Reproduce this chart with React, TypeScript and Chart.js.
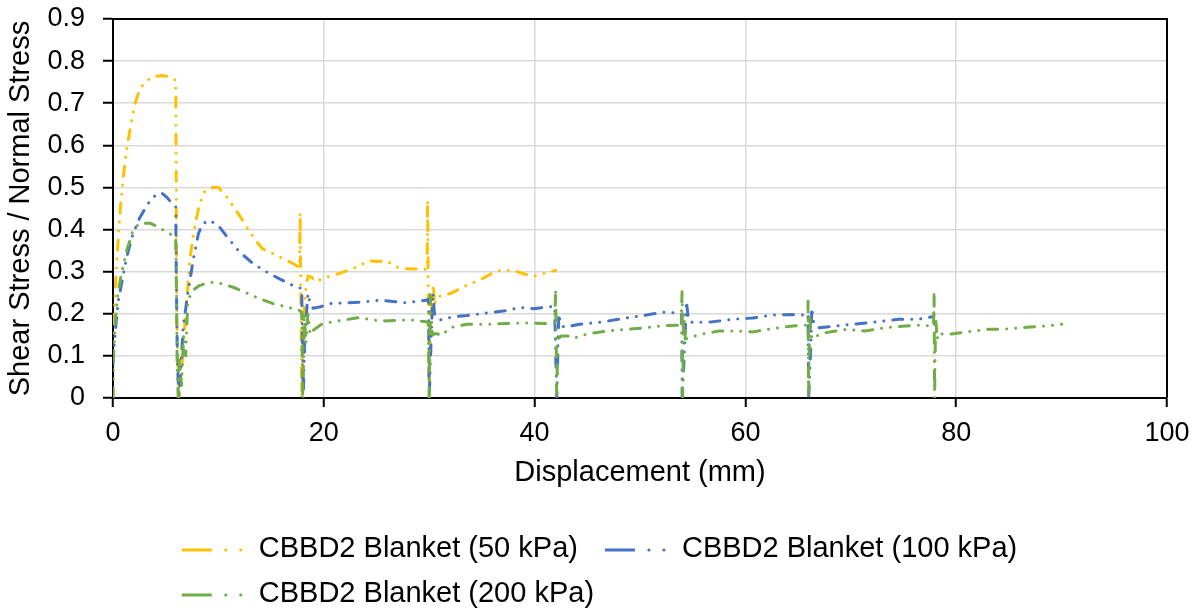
import React, { useEffect, useRef } from 'react';
import { Chart, registerables } from 'chart.js';

Chart.register(...registerables);

const FONT = '"Liberation Sans", Arial, sans-serif';

// Axis ticks
const xTickValues = [0, 20, 40, 60, 80, 100];
const yTickLabels = ['0', '0.1', '0.2', '0.3', '0.4', '0.5', '0.6', '0.7', '0.8', '0.9'];

// Series names and colours
const seriesNames = ['CBBD2 Blanket (50 kPa)', 'CBBD2 Blanket (100 kPa)', 'CBBD2 Blanket (200 kPa)'];
const seriesColors = ['#FFC000', '#4472C4', '#70AD47'];

// 50 kPa: displacement (mm) and stress ratio
const disp50 = [
  0, 0.05, 0.15, 0.3, 0.5, 0.7, 1.0, 1.3, 1.7, 2.1, 2.5, 3.0, 3.8, 4.7, 5.5, 5.95,
  6.0, 6.05, 6.2, 6.4, 6.6, 6.9, 7.3, 7.7, 8.2, 8.7, 9.3, 10.0, 10.8, 11.7, 12.7,
  13.6, 14.2, 15.5, 16.8, 17.7, 17.75, 17.8, 17.9, 18.0, 18.1, 18.3, 18.5, 18.8,
  19.3, 19.9, 21.5, 23.1, 24.3, 25.2, 25.9, 26.9, 27.8, 29.4, 29.8, 29.85, 29.9,
  30.0, 30.2, 30.4, 30.5, 30.7, 32.0, 33.6, 34.8, 36.4, 38.0, 39.3, 39.9, 40.9, 42.0,
];
const ratio50 = [
  0, 0.12, 0.22, 0.3, 0.38, 0.45, 0.53, 0.59, 0.65, 0.7, 0.73, 0.75, 0.763, 0.766, 0.762, 0.754,
  0.5, 0.2, 0.0, 0.02, 0.1, 0.2, 0.33, 0.4, 0.46, 0.49, 0.5, 0.5, 0.477, 0.445, 0.406,
  0.372, 0.354, 0.339, 0.323, 0.31, 0.44, 0.31, 0.0, 0.1, 0.2, 0.26, 0.29, 0.287,
  0.276, 0.284, 0.296, 0.311, 0.326, 0.324, 0.326, 0.311, 0.307, 0.306, 0.305, 0.47, 0.3,
  0.0, 0.2, 0.27, 0.22, 0.24, 0.248, 0.268, 0.28, 0.302, 0.303, 0.292, 0.289, 0.296, 0.303,
];

// 100 kPa
const disp100 = [
  0, 0.1, 0.3, 0.5, 0.8, 1.3, 1.9, 2.5, 3.3, 4.0, 4.6, 5.1, 5.5, 5.95, 6.0, 6.1, 6.25,
  6.4, 6.65, 7.1, 7.6, 8.1, 8.5, 9.2, 10.1, 11.1, 12.0, 13.3, 14.6, 15.8, 17.1, 17.9,
  18.0, 18.05, 18.2, 18.5, 18.7, 19.0, 19.6, 20.5, 22.1, 23.7, 25.3, 26.3, 27.8, 29.7,
  29.95, 30.0, 30.2, 30.35, 30.5, 31.0, 32.3, 33.6, 35.5, 37.4, 38.6, 39.9, 41.2, 41.9,
  42.1, 42.3, 42.5, 42.8, 44.3, 46.5, 48.7, 50.6, 52.2, 53.5, 53.95, 54.0, 54.2, 54.4,
  54.6, 55.0, 56.9, 58.8, 60.7, 62.6, 64.5, 65.7, 65.95, 66.0, 66.2, 66.3, 66.5, 67.0,
  68.6, 70.1, 72.6, 74.5, 76.4, 77.8,
];
const ratio100 = [
  0.08, 0.12, 0.18, 0.23, 0.27, 0.335, 0.39, 0.426, 0.461, 0.481, 0.487, 0.477, 0.465, 0.455, 0.3, 0.1, 0.0,
  0.05, 0.168, 0.248, 0.327, 0.39, 0.414, 0.422, 0.406, 0.374, 0.347, 0.319, 0.299, 0.283, 0.267, 0.26,
  0.1, 0.0, 0.15, 0.248, 0.224, 0.213, 0.216, 0.224, 0.226, 0.228, 0.232, 0.23, 0.226, 0.232,
  0.235, 0.0, 0.15, 0.25, 0.2, 0.185, 0.193, 0.196, 0.202, 0.208, 0.215, 0.212, 0.216, 0.218,
  0.0, 0.2, 0.175, 0.168, 0.175, 0.181, 0.19, 0.197, 0.204, 0.202, 0.2, 0.0, 0.1, 0.23,
  0.185, 0.179, 0.181, 0.187, 0.19, 0.197, 0.198, 0.197, 0.2, 0.0, 0.12, 0.214, 0.175, 0.167,
  0.171, 0.175, 0.181, 0.187, 0.187, 0.193,
];

// 200 kPa
const disp200 = [
  0, 0.05, 0.25, 0.47, 0.8, 1.3, 1.9, 2.5, 3.5, 4.3, 5.1, 5.95, 6.0, 6.1, 6.2, 6.3, 6.5,
  6.7, 6.9, 7.1, 7.6, 8.2, 9.2, 10.1, 11.4, 12.7, 13.9, 15.2, 16.5, 17.7, 17.9, 18.0,
  18.15, 18.3, 18.5, 18.7, 19.0, 19.9, 20.9, 22.1, 23.4, 24.7, 25.9, 27.2, 28.5, 29.7,
  29.9, 30.0, 30.05, 30.1, 30.3, 30.6, 31.3, 31.7, 32.3, 33.6, 35.5, 37.4, 39.3, 41.2,
  41.9, 42.0, 42.05, 42.1, 42.2, 42.5, 43.4, 43.7, 45.0, 46.9, 48.7, 50.6, 51.9, 53.5,
  53.9, 54.0, 54.05, 54.15, 54.3, 54.7, 55.7, 57.5, 59.4, 60.7, 62.6, 64.5, 65.7, 65.9,
  65.95, 66.0, 66.1, 66.3, 66.7, 67.6, 69.5, 71.4, 73.3, 75.2, 76.4, 77.7, 77.85, 77.9,
  77.95, 78.05, 78.2, 78.3, 78.8, 79.6, 80.4, 82.9, 84.8, 86.7, 88.6, 90.0,
];
const ratio200 = [
  0, 0.1, 0.192, 0.248, 0.295, 0.35, 0.398, 0.415, 0.415, 0.406, 0.394, 0.382, 0.3, 0.05, 0.0, 0.1, 0.03,
  0.15, 0.1, 0.232, 0.256, 0.267, 0.275, 0.273, 0.263, 0.249, 0.236, 0.224, 0.216, 0.208, 0.204, 0.0,
  0.2, 0.13, 0.2, 0.15, 0.161, 0.177, 0.181, 0.186, 0.191, 0.185, 0.183, 0.185, 0.185, 0.181,
  0.18, 0.0, 0.12, 0.245, 0.15, 0.153, 0.149, 0.162, 0.169, 0.175, 0.175, 0.177, 0.178, 0.177,
  0.177, 0.258, 0.15, 0.0, 0.14, 0.147, 0.147, 0.142, 0.152, 0.159, 0.163, 0.167, 0.171, 0.173,
  0.173, 0.258, 0.0, 0.2, 0.14, 0.143, 0.151, 0.159, 0.159, 0.157, 0.165, 0.171, 0.173, 0.173,
  0.23, 0.0, 0.19, 0.14, 0.147, 0.155, 0.163, 0.159, 0.167, 0.171, 0.173, 0.171, 0.172, 0.254,
  0.0, 0.19, 0.14, 0.155, 0.151, 0.152, 0.155, 0.163, 0.164, 0.168, 0.171, 0.175,
];

const seriesX = [disp50, disp100, disp200];
const seriesY = [ratio50, ratio100, ratio200];

const LINE_WIDTH = 3;
// long dash, dot, dot (round caps turn the zero-length dashes into dots)
const DASH = [10, 9, 0.01, 9, 0.01, 9];

// Black frame around the plot area (top and right edges)
const framePlugin = {
  id: 'plotFrame',
  beforeDatasetsDraw(chart: any) {
    const { ctx, chartArea } = chart;
    ctx.save();
    ctx.strokeStyle = '#000';
    ctx.lineWidth = 2;
    ctx.beginPath();
    ctx.moveTo(chartArea.left, chartArea.top);
    ctx.lineTo(chartArea.right, chartArea.top);
    ctx.lineTo(chartArea.right, chartArea.bottom);
    ctx.stroke();
    ctx.restore();
  },
};

// Legend laid out in rows that share a common left edge
const rowLegendPlugin = {
  id: 'rowLegend',
  afterDraw(chart: any) {
    const ctx = chart.ctx as CanvasRenderingContext2D;
    ctx.save();
    ctx.font = `29px ${FONT}`;
    const widths = seriesNames.map((n) => ctx.measureText(n).width);
    const sampleW = 77;
    const itemGap = 27;
    const row1W = sampleW + widths[0] + itemGap + sampleW + widths[1];
    const x0 = (chart.width - row1W) / 2 - 2;
    const rows = [
      { y: 549, items: [0, 1] },
      { y: 594, items: [2] },
    ];
    rows.forEach((row) => {
      let x = x0;
      row.items.forEach((i) => {
        const color = seriesColors[i];
        ctx.strokeStyle = color;
        ctx.fillStyle = color;
        ctx.lineWidth = LINE_WIDTH;
        ctx.lineCap = 'butt';
        ctx.setLineDash([]);
        ctx.beginPath();
        ctx.moveTo(x, row.y + 1);
        ctx.lineTo(x + 30, row.y + 1);
        ctx.stroke();
        [44, 59].forEach((dx) => {
          ctx.beginPath();
          ctx.arc(x + dx, row.y + 1, 1.6, 0, Math.PI * 2);
          ctx.fill();
        });
        ctx.fillStyle = '#000';
        ctx.textAlign = 'left';
        ctx.textBaseline = 'middle';
        ctx.fillText(seriesNames[i], x + sampleW, row.y);
        x += sampleW + widths[i] + itemGap;
      });
    });
    ctx.restore();
  },
};

export default function App() {
  const canvasRef = useRef<HTMLCanvasElement | null>(null);

  useEffect(() => {
    if (!canvasRef.current) return;
    const datasets = seriesNames.map((name, i) => ({
      label: name,
      data: seriesX[i].map((x, j) => ({ x, y: seriesY[i][j] })),
      borderColor: seriesColors[i],
      backgroundColor: seriesColors[i],
      borderWidth: LINE_WIDTH,
      borderDash: DASH,
      borderCapStyle: 'round' as const,
      borderJoinStyle: 'round' as const,
      pointRadius: 0,
      tension: 0,
      fill: false,
      showLine: true,
      order: 2 - i,
    }));

    const chart = new Chart(canvasRef.current, {
      type: 'scatter',
      data: { datasets },
      options: {
        animation: false,
        responsive: true,
        maintainAspectRatio: false,
        layout: { padding: { left: 0, top: 19, right: 36, bottom: 117 } },
        plugins: {
          legend: { display: false },
          tooltip: { enabled: false },
        },
        scales: {
          x: {
            type: 'linear',
            min: 0,
            max: 100,
            afterBuildTicks: (s: any) => {
              s.ticks = xTickValues.map((v) => ({ value: v }));
            },
            afterFit: (s: any) => {
              s.height = 100;
              s.paddingLeft = 0;
              s.paddingRight = 0;
            },
            ticks: {
              font: { family: FONT, size: 27 },
              color: '#000',
              padding: 10,
              maxRotation: 0,
              callback: (v: any) => String(v),
            },
            grid: {
              color: '#d9d9d9',
              lineWidth: 1.5,
              tickColor: '#000',
              tickLength: 9,
              tickWidth: 2,
            },
            border: { color: '#000', width: 2 },
            title: {
              display: true,
              text: 'Displacement (mm)',
              color: '#000',
              font: { family: FONT, size: 29 },
              padding: { top: 0, bottom: 8 },
            },
          },
          y: {
            type: 'linear',
            min: 0,
            max: 0.9,
            afterBuildTicks: (s: any) => {
              s.ticks = yTickLabels.map((_, k) => ({ value: k / 10 }));
            },
            afterFit: (s: any) => {
              s.width = 113;
              s.paddingTop = 0;
              s.paddingBottom = 0;
            },
            ticks: {
              font: { family: FONT, size: 27 },
              color: '#000',
              padding: 18,
              callback: (v: any) => yTickLabels[Math.round(Number(v) * 10)],
            },
            grid: {
              color: '#d9d9d9',
              lineWidth: 1.5,
              tickColor: '#000',
              tickLength: 10,
              tickWidth: 2,
            },
            border: { color: '#000', width: 2 },
            title: {
              display: true,
              text: 'Shear Stress / Normal Stress',
              color: '#000',
              font: { family: FONT, size: 29 },
              padding: { top: 4, bottom: 0 },
            },
          },
        },
      },
      plugins: [framePlugin, rowLegendPlugin],
    });
    return () => chart.destroy();
  }, []);

  return (
    <div style={{ position: 'fixed', left: 0, top: 0, width: 1203, height: 615, background: '#fff' }}>
      <canvas ref={canvasRef} />
    </div>
  );
}
